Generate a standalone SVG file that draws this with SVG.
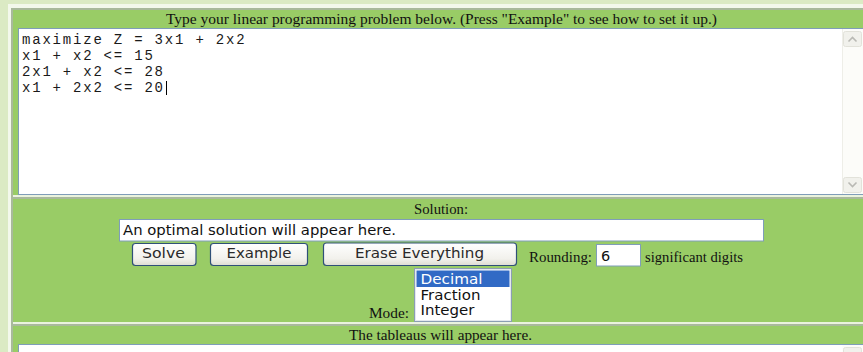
<svg xmlns="http://www.w3.org/2000/svg" width="863" height="352" viewBox="0 0 863 352">
<style>
.serif{font-family:"Liberation Serif","Times New Roman",serif;font-size:15px;fill:#111}
.sans{font-family:"DejaVu Sans",Verdana,sans-serif;font-size:14.5px;fill:#111}
.btxt{font-family:"DejaVu Sans",Verdana,sans-serif;font-size:14.5px;fill:#2a2a2a}
.mono{font-family:"Liberation Mono","Courier New",monospace;font-size:14px;letter-spacing:1.8px;fill:#1a1a1a}
.field{fill:#ffffff;stroke:#7f9db9;stroke-width:1}
.btn{fill:url(#btnGrad);stroke:#2f5078;stroke-width:1.2}
.green{fill:#99cc66}
.sbtn{fill:#f1f1ec;stroke:#e2e2da;stroke-width:1}
.chev{fill:none;stroke:#b9b9b4;stroke-width:1.6}
</style>
<defs>
<linearGradient id="btnGrad" x1="0" y1="0" x2="0" y2="1">
<stop offset="0" stop-color="#ffffff"/>
<stop offset="0.7" stop-color="#f2f1ec"/>
<stop offset="1" stop-color="#dedcd2"/>
</linearGradient>
</defs>

<g id="frame">
<rect x="0" y="0" width="863" height="352" fill="#dbeac4"/>
<rect x="8" y="4" width="855" height="348" fill="#f3f8ec"/>
<rect x="11" y="8" width="852" height="344" fill="#a9b99c"/>
</g>

<g id="input-section">
<rect class="green" x="13" y="10" width="850" height="185"/>
<text class="serif" x="166" y="24" font-size="14.5" textLength="551" lengthAdjust="spacingAndGlyphs">Type your linear programming problem below. (Press "Example" to see how to set it up.)</text>
<rect x="18.5" y="28.5" width="846" height="166" fill="#ffffff" stroke="#7f9db9"/>
<text class="mono" x="22" y="44">maximize Z = 3x1 + 2x2</text>
<text class="mono" x="22" y="60">x1 + x2 &lt;= 15</text>
<text class="mono" x="22" y="76">2x1 + x2 &lt;= 28</text>
<text class="mono" x="22" y="92">x1 + 2x2 &lt;= 20</text>
<line x1="166.5" y1="81" x2="166.5" y2="95" stroke="#000" stroke-width="1"/>
<g id="scrollbar-1">
<rect x="842.5" y="29" width="21" height="165" fill="#fcfcf9"/>
<line x1="842.5" y1="29" x2="842.5" y2="194" stroke="#eeeee8"/>
<rect class="sbtn" x="843.5" y="31.5" width="18" height="15" rx="2"/>
<polyline class="chev" points="848.5,41.5 852.5,37.5 856.5,41.5"/>
<rect class="sbtn" x="843.5" y="177.5" width="18" height="15" rx="2"/>
<polyline class="chev" points="848.5,182.5 852.5,186.5 856.5,182.5"/>
</g>
</g>

<g id="separator-1">
<rect x="13" y="195" width="850" height="2" fill="#eaf3de"/>
</g>

<g id="solution-section">
<rect class="green" x="13" y="199" width="850" height="123"/>
<text class="serif" x="414" y="214" textLength="54" lengthAdjust="spacingAndGlyphs">Solution:</text>
<rect class="field" x="119.5" y="219.5" width="644" height="21.5"/>
<text class="sans" x="123" y="235" textLength="273" lengthAdjust="spacingAndGlyphs">An optimal solution will appear here.</text>
</g>

<g id="btn-solve">
<rect class="btn" x="132.5" y="243.5" width="63.5" height="22" rx="3"/>
<text class="btxt" x="163.5" y="258" text-anchor="middle" textLength="43" lengthAdjust="spacingAndGlyphs">Solve</text>
</g>
<g id="btn-example">
<rect class="btn" x="210.5" y="243.5" width="97" height="22" rx="3"/>
<text class="btxt" x="259" y="258" text-anchor="middle" textLength="65" lengthAdjust="spacingAndGlyphs">Example</text>
</g>
<g id="btn-erase">
<rect class="btn" x="323.5" y="243" width="193" height="22.5" rx="3"/>
<text class="btxt" x="419.5" y="258" text-anchor="middle" textLength="129" lengthAdjust="spacingAndGlyphs">Erase Everything</text>
</g>

<g id="rounding">
<text class="serif" x="529" y="262" textLength="63" lengthAdjust="spacingAndGlyphs">Rounding:</text>
<rect class="field" x="596.5" y="244.5" width="44" height="21.5"/>
<text class="sans" x="601" y="261" font-size="14">6</text>
<text class="serif" x="645" y="262" textLength="98" lengthAdjust="spacingAndGlyphs">significant digits</text>
</g>

<g id="mode">
<text class="serif" x="369" y="318" textLength="40" lengthAdjust="spacingAndGlyphs">Mode:</text>
<rect x="414.5" y="268.5" width="97" height="53" fill="#ffffff" stroke="#8b9eb3" stroke-width="1"/>
<rect x="415.5" y="269.5" width="95" height="51" fill="none" stroke="#e4e8ee" stroke-width="1"/>
<rect x="416.5" y="270.5" width="93" height="16.5" fill="#316ac5"/>
<text class="sans" x="420.5" y="284" font-size="15" style="fill:#ffffff" textLength="62" lengthAdjust="spacingAndGlyphs">Decimal</text>
<text class="sans" x="420.5" y="299.5" font-size="15" textLength="60" lengthAdjust="spacingAndGlyphs">Fraction</text>
<text class="sans" x="420.5" y="315" font-size="15" textLength="54" lengthAdjust="spacingAndGlyphs">Integer</text>
</g>

<g id="separator-2">
<rect x="13" y="322" width="850" height="2" fill="#eaf3de"/>
</g>

<g id="tableau-section">
<rect class="green" x="13" y="326" width="850" height="26"/>
<text class="serif" x="349" y="340" textLength="183" lengthAdjust="spacingAndGlyphs">The tableaus will appear here.</text>
<rect x="18.5" y="344.5" width="846" height="20" fill="#ffffff" stroke="#7f9db9"/>
<rect x="842.5" y="345" width="21" height="7" fill="#fcfcf9"/>
<rect class="sbtn" x="843.5" y="347.5" width="18" height="15" rx="2"/>
</g>

<g id="connectors"></g>
</svg>
